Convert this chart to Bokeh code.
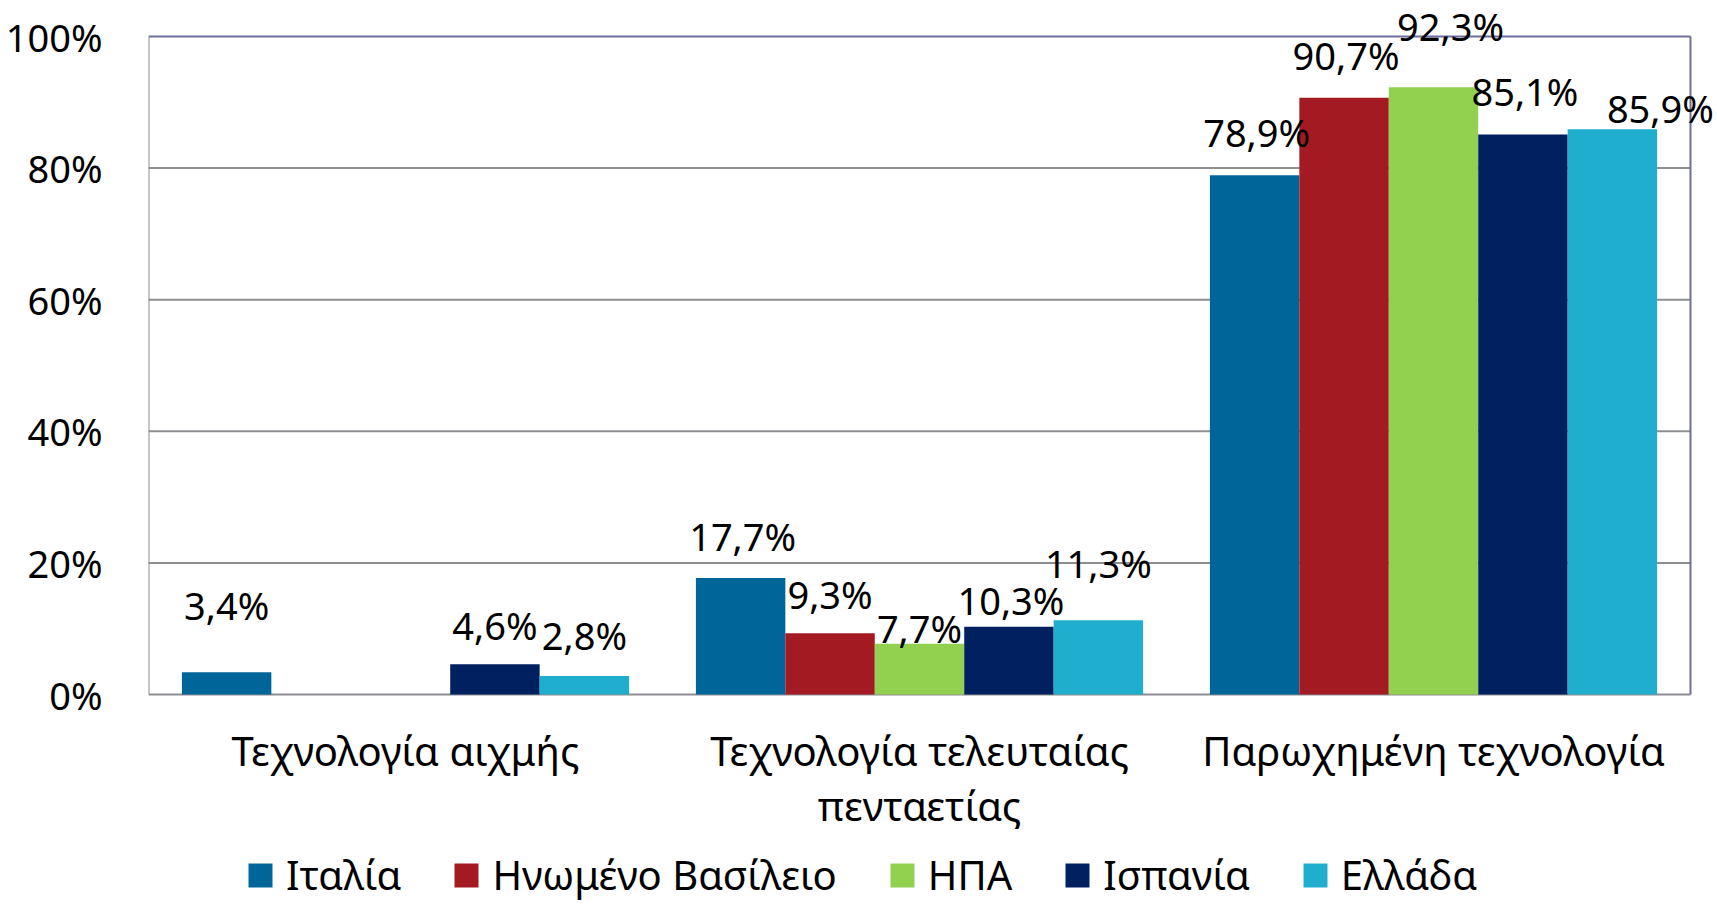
from bokeh.plotting import figure
from bokeh.models import (ColumnDataSource, Range1d, FixedTicker, PrintfTickFormatter,
                          LabelSet, Legend, LegendItem)
from bokeh.core.properties import value
from bokeh.embed import file_html
from bokeh.resources import INLINE

# ---- data ----
categories = ["Τεχνολογία αιχμής", "Τεχνολογία τελευταίας\nπενταετίας", "Παρωχημένη τεχνολογία"]
series_names = ["Ιταλία", "Ηνωμένο Βασίλειο", "ΗΠΑ", "Ισπανία", "Ελλάδα"]
italy = [3.4, 17.7, 78.9]
uk = [None, 9.3, 90.7]
usa = [None, 7.7, 92.3]
spain = [4.6, 10.3, 85.1]
greece = [2.8, 11.3, 85.9]
y_ticks = [0, 20, 40, 60, 80, 100]

# ---- style ----
colors = ["#006699", "#A31A23", "#92D050", "#002060", "#20AECF"]
grid_color = "#8E8E92"
border_color = "#6E6E9E"
# label nudges in pixels (baseline gap above bar top, horizontal shift), per series per category
label_gap = [[52, 27, 28], [0, 24, 28], [0, 1, 46], [24, 12, 29], [26, 42, 6]]
label_dx = [[0, 2, 2], [0, 0, 2], [0, 0, 17], [0, 2, 2], [0, 0, 48]]

FONT = "Noto Sans"
series = [italy, uk, usa, spain, greece]
n_cat = len(categories)
cat_x = [i + 0.5 for i in range(n_cat)]
bar_w = 0.174
offsets = [(-2 + i) * bar_w for i in range(5)]

# layout (pixels)
CAT_PX = 514          # width of one category slot
PCT_PX = 6.58         # pixels per percentage point
LEFT = 148
FRAME_W = 1567
TOP_PAD = 36
BOTTOM_PAD = 212
FRAME_H = int(round(100 * PCT_PX)) + TOP_PAD + BOTTOM_PAD

p = figure(x_range=Range1d(0, FRAME_W / CAT_PX),
           y_range=Range1d(-BOTTOM_PAD / PCT_PX, 100 + TOP_PAD / PCT_PX),
           frame_width=FRAME_W, frame_height=FRAME_H, output_backend="svg",
           toolbar_location=None, min_border_left=LEFT, min_border_right=0,
           min_border_top=0, min_border_bottom=0)
p.outline_line_color = None
p.background_fill_color = "white"
p.border_fill_color = "white"
p.xgrid.grid_line_color = None
p.ygrid.grid_line_color = None
p.xaxis.visible = False

# gridlines and plot-area border
hl = ColumnDataSource(dict(y=y_ticks, x0=[0] * len(y_ticks), x1=[n_cat] * len(y_ticks),
                           c=[grid_color] * (len(y_ticks) - 1) + [border_color]))
p.segment(x0="x0", x1="x1", y0="y", y1="y", line_color="c", line_width=2, source=hl)
vl = ColumnDataSource(dict(x=[0, n_cat], y0=[0, 0], y1=[100, 100], c=[grid_color, border_color]))
p.segment(x0="x", x1="x", y0="y0", y1="y1", line_color="c", line_width=2, source=vl)

items = []
for i, (name, vals) in enumerate(zip(series_names, series)):
    v = [0 if x is None else x for x in vals]
    lab = ["" if x is None else (f"{x:.1f}".replace(".", ",") + "%") for x in vals]
    xs = [c + offsets[i] for c in cat_x]
    src = ColumnDataSource(dict(x=xs, val=v, lab=lab, dy=label_gap[i], dx=label_dx[i]))
    r = p.vbar(x="x", top="val", width=bar_w, source=src, fill_color=colors[i], line_color=None)
    items.append(LegendItem(label=name, renderers=[r]))
    ls = LabelSet(x="x", y="val", text="lab", x_offset="dx", y_offset="dy", source=src,
                  text_align="center", text_baseline="alphabetic", text_font=value(FONT),
                  text_font_size="38px", text_color="#000000")
    p.add_layout(ls)

# category labels
csrc = ColumnDataSource(dict(x=cat_x, y=[0] * n_cat, t=categories))
p.text(x="x", y="y", text="t", source=csrc, text_align="center", text_baseline="top",
       y_offset=28, text_font=value(FONT), text_font_size="40px", text_color="#000000",
       text_line_height=1.0)

p.yaxis.ticker = FixedTicker(ticks=y_ticks)
p.yaxis.formatter = PrintfTickFormatter(format="%d%%")
p.yaxis.major_label_text_font = FONT
p.yaxis.major_label_text_font_size = "38px"
p.yaxis.major_label_text_color = "#000000"
p.yaxis.major_tick_line_color = None
p.yaxis.minor_tick_line_color = None
p.yaxis.axis_line_color = None
p.yaxis.major_label_standoff = 40

legend = Legend(items=items, orientation="horizontal", location=(97, 4),
                label_text_font=FONT, label_text_font_size="40px", label_text_color="#000000",
                glyph_width=30, glyph_height=30, spacing=50, label_standoff=11,
                border_line_color=None, background_fill_alpha=0, margin=0, padding=0)
p.add_layout(legend, "center")

open("out.html", "w").write(file_html(p, INLINE))
